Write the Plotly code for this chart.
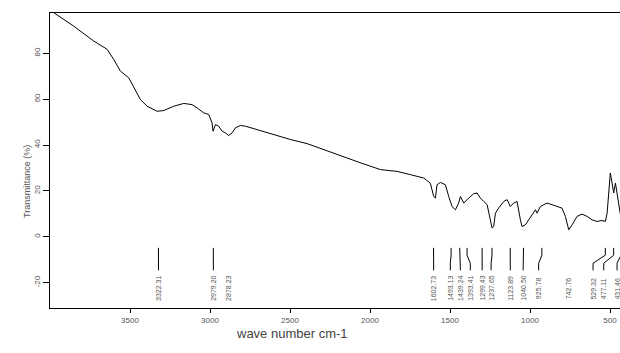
import plotly.graph_objects as go

# ---- spectrum data (wavenumber cm-1, transmittance %) ----
wavenumber = [3995, 3960, 3852, 3727, 3643, 3602, 3560, 3508, 3466, 3435, 3393, 3331, 3289,
              3227, 3164, 3112, 3081, 3039, 3008, 2987, 2981, 2966, 2946, 2924, 2904, 2883,
              2862, 2841, 2810, 2779, 2706, 2602, 2498, 2393, 2289, 2185, 2050, 1935, 1831,
              1748, 1664, 1623, 1602, 1591, 1581, 1560, 1529, 1508, 1487, 1466, 1446, 1435,
              1414, 1383, 1352, 1331, 1310, 1289, 1268, 1248, 1237, 1227, 1216, 1196, 1164,
              1143, 1123, 1102, 1081, 1060, 1050, 1029, 1008, 987, 966, 956, 935, 914, 893,
              862, 831, 800, 779, 758, 737, 706, 675, 643, 612, 581, 550, 529, 518, 508, 498,
              487, 477, 466, 452, 439, 431]
transmittance = [98.5, 96.9, 91.8, 85.3, 81.7, 77.3, 72.2, 69.3, 64.2, 59.8, 56.9, 54.7, 55.0,
                 56.9, 58.1, 57.6, 56.2, 54.0, 53.3, 49.6, 46.0, 48.9, 48.2, 46.0, 45.3, 44.1,
                 45.3, 47.5, 48.5, 48.2, 46.7, 44.5, 42.4, 40.6, 38.0, 35.1, 32.0, 29.3, 28.5,
                 27.1, 25.6, 23.4, 17.6, 16.9, 22.7, 23.7, 22.7, 17.6, 13.2, 11.8, 14.7, 17.6,
                 14.7, 16.9, 18.8, 19.1, 16.9, 15.4, 14.0, 7.4, 3.8, 4.5, 10.3, 12.5, 15.4,
                 16.2, 13.2, 14.7, 15.4, 7.4, 4.5, 5.2, 7.4, 9.6, 11.8, 10.3, 13.2, 14.0, 14.7,
                 14.0, 13.2, 12.5, 8.9, 3.1, 5.2, 8.9, 9.9, 8.9, 7.4, 6.7, 7.1, 6.7, 10.3, 20.5,
                 27.8, 23.4, 19.1, 23.4, 17.6, 10.3, 8.0]

# ---- peak annotations ----
peak_labels = ["3322.31", "2979.20", "2878.23", "1602.73", "1493.13", "1439.24", "1393.41",
               "1299.43", "1237.65", "1123.89", "1040.50", "925.78", "742.76", "529.32",
               "477.11", "431.46"]
peak_wn = [3322.31, 2979.20, 2878.23, 1602.73, 1493.13, 1439.24, 1393.41, 1299.43, 1237.65,
           1123.89, 1040.50, 925.78, 742.76, 529.32, 477.11, 431.46]
label_wn = [3322, 2979, 2885, 1602, 1498, 1435, 1373, 1299, 1243, 1123, 1043, 946, 758, 606,
            539, 456]
has_line = [True, True, False, True, True, True, True, True, True, True, True, True, False,
            True, True, True]

x_ticks = [3500, 3000, 2500, 2000, 1500, 1000, 500]
y_ticks = [-20, 0, 20, 40, 60, 80]

fig = go.Figure()
fig.add_trace(go.Scatter(x=wavenumber, y=transmittance, mode="lines",
                         line=dict(color="black", width=1), hoverinfo="skip"))

# peak marker lines
for pw, lw, hl in zip(peak_wn, label_wn, has_line):
    if not hl:
        continue
    fig.add_trace(go.Scatter(x=[pw, pw, lw, lw], y=[-4.8, -8.0, -11.5, -14.6], mode="lines",
                             line=dict(color="black", width=1), hoverinfo="skip"))

for lab, lw in zip(peak_labels, label_wn):
    fig.add_annotation(x=lw, y=-22.5, text=lab, textangle=-90, showarrow=False,
                       font=dict(family="Liberation Sans", size=7, color="#555555"))

font_ax = dict(family="Liberation Sans", size=8, color="#555555")
fig.update_layout(
    width=620, height=353,
    margin=dict(l=50, r=0, t=13, b=45),
    paper_bgcolor="white", plot_bgcolor="white",
    showlegend=False,
    xaxis=dict(range=[4000, 437.5], tickvals=x_ticks, ticktext=[str(v) for v in x_ticks],
               showgrid=False, zeroline=False, showline=True, linecolor="black", linewidth=1,
               mirror=True, ticks="outside", ticklen=4, tickcolor="black", tickfont=font_ax),
    yaxis=dict(range=[-31.0, 97.5], tickvals=y_ticks, ticktext=[str(v) for v in y_ticks],
               tickangle=-90, showgrid=False, zeroline=False, showline=True, linecolor="black",
               linewidth=1, ticks="outside", ticklen=6, tickcolor="black", tickfont=font_ax),
)
fig.add_annotation(xref="paper", yref="paper", x=(292 - 50) / 570, y=-(342 - 308) / 295,
                   text="wave number cm-1", showarrow=False, borderpad=0,
                   font=dict(family="Liberation Sans", size=13, color="#444444"))
fig.add_annotation(xref="paper", yref="paper", x=-(50 - 20) / 570, y=(308 - 182) / 295,
                   text="Transmittance (%)", textangle=-90, showarrow=False,
                   font=dict(family="Liberation Sans", size=9, color="#555555"))

fig.write_html("out.html")
